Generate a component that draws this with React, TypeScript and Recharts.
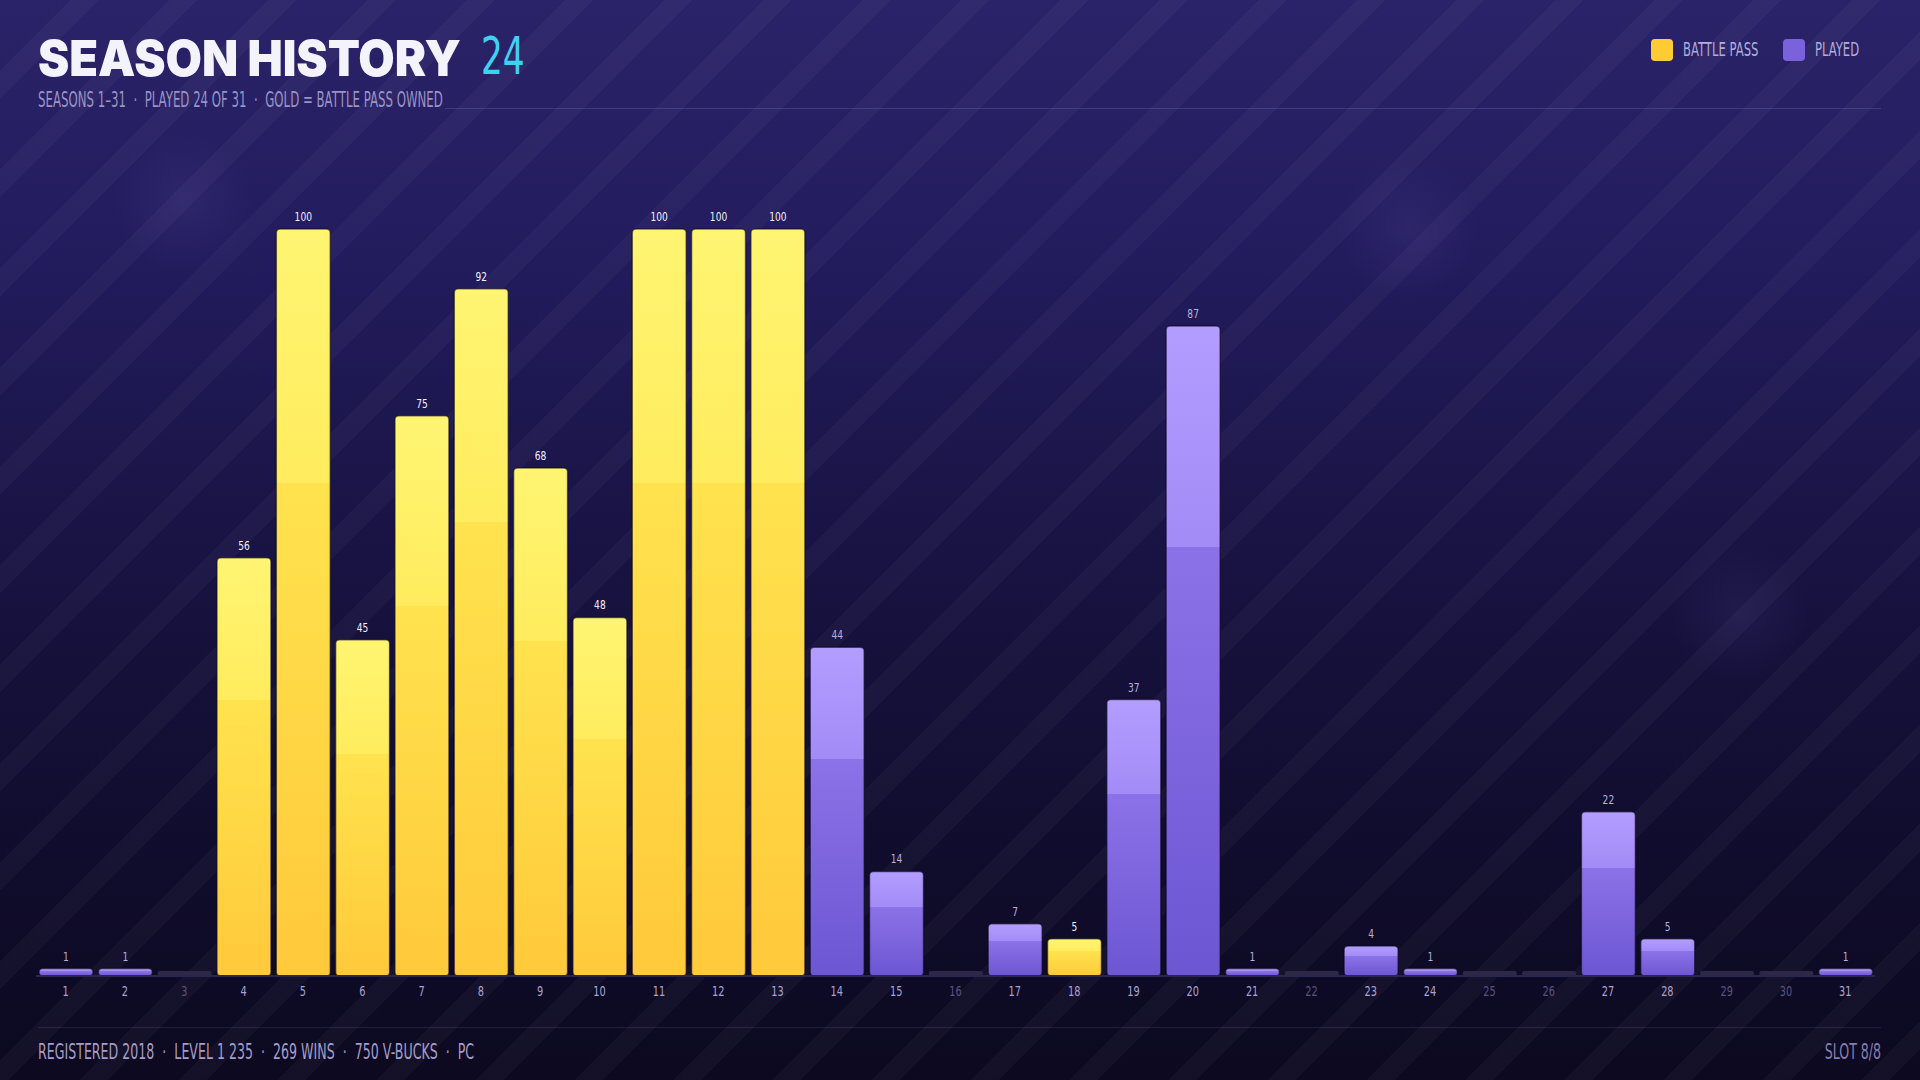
import React from 'react';
import { BarChart, Bar, XAxis, YAxis, LabelList } from 'recharts';

// season numbers on the x axis
const SEASONS = [
  '1', '2', '3', '4', '5', '6', '7', '8', '9', '10', '11', '12', '13', '14', '15', '16',
  '17', '18', '19', '20', '21', '22', '23', '24', '25', '26', '27', '28', '29', '30', '31',
];
// tier reached per season (0 = not played)
const LEVELS = [1, 1, 0, 56, 100, 45, 75, 92, 68, 48, 100, 100, 100, 44, 14, 0, 7, 5, 37, 87, 1, 0, 4, 1, 0, 0, 22, 5, 0, 0, 1];
// seasons where the battle pass was owned
const BATTLE_PASS = [4, 5, 6, 7, 8, 9, 10, 11, 12, 13, 18];
const Y_TICKS = [0, 100];

// no condensed face installed, so squeeze DejaVu horizontally
const COND = '"DejaVu Sans", sans-serif';

const data = SEASONS.map((s, i) => ({
  season: s,
  level: LEVELS[i],
  bp: BATTLE_PASS.includes(i + 1),
}));

const Narrow = ({ children, style, squeeze = 0.6, origin = 'left' }: any) => (
  <span
    style={{
      position: 'absolute',
      whiteSpace: 'nowrap',
      fontFamily: COND,
      transform: `scaleX(${squeeze})`,
      transformOrigin: origin,
      ...style,
    }}
  >
    {children}
  </span>
);

const BarShape = (props: any) => {
  const { x, y, width, height, payload } = props;
  const base = y + height;
  if (!payload.level) {
    return <rect x={x} y={base - 5} width={width} height={5} rx={2} fill="#2d2846" />;
  }
  return (
    <rect
      x={x}
      y={y}
      width={width}
      height={height}
      rx={Math.min(4, height / 2)}
      fill={payload.bp ? 'url(#gold)' : 'url(#purple)'}
      stroke="rgba(8,4,24,0.55)"
      strokeWidth={1.5}
    />
  );
};

const ValueLabel = (props: any) => {
  const { x, y, width, value, index } = props;
  if (!value) return null;
  const bp = data[index].bp;
  return (
    <g transform={`translate(${x + width / 2},${y - 8}) scale(0.7,1)`}>
      <text x={0} y={0} textAnchor="middle" fontFamily={COND} fontSize={13} fill={bp ? '#f4f1ff' : '#b9b0dd'}>
        {value}
      </text>
    </g>
  );
};

const SeasonTick = (props: any) => {
  const { x, y, payload, index } = props;
  const played = LEVELS[index] > 0;
  return (
    <g transform={`translate(${x},${y + 12}) scale(0.7,1)`}>
      <text x={0} y={0} textAnchor="middle" fontFamily={COND} fontSize={14} fill={played ? '#aaa2d2' : '#5a5380'}>
        {payload.value}
      </text>
    </g>
  );
};

export default function App() {
  return (
    <div
      style={{
        position: 'absolute',
        left: 0,
        top: 0,
        width: 1920,
        height: 1080,
        overflow: 'hidden',
        background:
          'radial-gradient(circle at 184px 202px, rgba(120,100,200,0.12) 0, rgba(120,100,200,0) 70px),' +
          'radial-gradient(circle at 1408px 228px, rgba(120,100,200,0.12) 0, rgba(120,100,200,0) 70px),' +
          'radial-gradient(circle at 1739px 612px, rgba(120,100,200,0.10) 0, rgba(120,100,200,0) 70px),' +
          'repeating-linear-gradient(135deg, rgba(255,255,255,0) 0px, rgba(255,255,255,0) 50px, rgba(255,255,255,0.03) 50px, rgba(255,255,255,0.03) 70px),' +
          'linear-gradient(180deg, #2b2369 0%, #221b5c 25%, #17123f 55%, #100c2c 80%, #0c0920 100%)',
      }}
    >
      <span
        style={{
          position: 'absolute',
          left: 38,
          top: 28,
          whiteSpace: 'nowrap',
          fontFamily: 'Inter, sans-serif',
          fontWeight: 900,
          fontSize: 50,
          color: '#f4f2fb',
          transform: 'scaleX(0.94)',
          transformOrigin: 'left',
        }}
      >
        SEASON HISTORY
      </span>
      <Narrow squeeze={0.66} style={{ left: 481, top: 26, fontSize: 52, color: '#3fd2f0' }}>24</Narrow>
      <Narrow squeeze={0.56} style={{ left: 38, top: 88, fontSize: 21, color: '#9a93c6' }}>
        SEASONS 1–31 &nbsp;·&nbsp; PLAYED 24 OF 31 &nbsp;·&nbsp; GOLD = BATTLE PASS OWNED
      </Narrow>
      <div style={{ position: 'absolute', left: 445, top: 108, width: 1436, height: 1, background: 'rgba(150,135,220,0.25)' }} />

      <div style={{ position: 'absolute', left: 1651, top: 39, width: 22, height: 22, borderRadius: 4, background: '#ffcc33' }} />
      <Narrow squeeze={0.58} style={{ left: 1683, top: 37, fontSize: 20, color: '#b3acd9' }}>BATTLE PASS</Narrow>
      <div style={{ position: 'absolute', left: 1783, top: 39, width: 22, height: 22, borderRadius: 4, background: '#7a62dc' }} />
      <Narrow squeeze={0.58} style={{ left: 1815, top: 37, fontSize: 20, color: '#b3acd9' }}>PLAYED</Narrow>

      <div style={{ position: 'absolute', left: 0, top: 0 }}>
        <BarChart width={1920} height={1010} data={data} margin={{ top: 229, right: 45, left: 36, bottom: 0 }} barSize={54}>
          <defs>
            <linearGradient id="gold" x1="0" y1="0" x2="0" y2="1">
              <stop offset="0%" stopColor="#fff572" />
              <stop offset="34%" stopColor="#ffec5e" />
              <stop offset="34%" stopColor="#ffe34e" />
              <stop offset="100%" stopColor="#ffc93b" />
            </linearGradient>
            <linearGradient id="purple" x1="0" y1="0" x2="0" y2="1">
              <stop offset="0%" stopColor="#b39dff" />
              <stop offset="34%" stopColor="#a38bf6" />
              <stop offset="34%" stopColor="#8c72e8" />
              <stop offset="100%" stopColor="#6c56d2" />
            </linearGradient>
          </defs>
          <XAxis
            dataKey="season"
            interval={0}
            height={34}
            tickLine={false}
            axisLine={{ stroke: '#2b2650', strokeWidth: 2 }}
            tick={<SeasonTick />}
          />
          <YAxis hide domain={[0, 100]} ticks={Y_TICKS} />
          <Bar dataKey="level" isAnimationActive={false} minPointSize={5} shape={<BarShape />}>
            <LabelList dataKey="level" content={<ValueLabel />} />
          </Bar>
        </BarChart>
      </div>

      <div style={{ position: 'absolute', left: 38, top: 1027, width: 1843, height: 1, background: 'rgba(150,135,220,0.16)' }} />
      <Narrow squeeze={0.6} style={{ left: 38, top: 1040, fontSize: 21, color: '#a49dc9' }}>
        REGISTERED 2018 &nbsp;·&nbsp; LEVEL 1 235 &nbsp;·&nbsp; 269 WINS &nbsp;·&nbsp; 750 V-BUCKS &nbsp;·&nbsp; PC
      </Narrow>
      <Narrow squeeze={0.6} origin="right" style={{ right: 39, top: 1040, fontSize: 21, color: '#857eb0' }}>
        SLOT 8/8
      </Narrow>
    </div>
  );
}
